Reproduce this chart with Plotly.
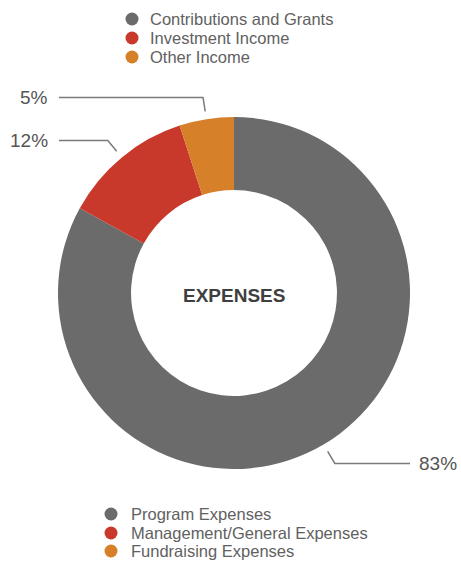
import math
import plotly.graph_objects as go

# ---- data ----
expense_labels = ["Program Expenses", "Management/General Expenses", "Fundraising Expenses"]
expense_values = [83, 12, 5]
income_labels = ["Contributions and Grants", "Investment Income", "Other Income"]
center_title = "EXPENSES"
colors = ["#6b6b6b", "#c8392b", "#d6802a"]

W, H = 461, 562
CX, CY, R = 234, 293, 176
HOLE = 0.585
FONT = "Liberation Sans, Arial, sans-serif"
TXT = "#616161"
LINE = "#7a7a7a"

fig = go.Figure()
fig.add_trace(go.Scatter(x=[], y=[], showlegend=False, hoverinfo="skip"))
fig.add_trace(go.Pie(
    labels=expense_labels, values=expense_values, hole=HOLE,
    sort=False, direction="clockwise", rotation=0,
    marker=dict(colors=colors, line=dict(width=0)),
    textinfo="none", showlegend=False,
    domain=dict(x=[(CX - R) / W, (CX + R) / W], y=[1 - (CY + R) / H, 1 - (CY - R) / H]),
))

shapes, annotations = [], []

# leader lines + percentage labels, computed from the values
total = sum(expense_values)
cum = 0
for v in expense_values:
    mid = (cum + v / 2) / total * 2 * math.pi
    cum += v
    s, c = math.sin(mid), math.cos(mid)
    x0, y0 = CX + (R + 8) * s, CY - (R + 8) * c
    x1, y1 = CX + (R + 22) * s, CY - (R + 22) * c
    if s > 0:
        x2, tx, anchor = 410, 417, "left"
    else:
        x2, tx, anchor = 59, 50, "right"
    shapes.append(dict(type="path", xref="x", yref="y",
                       path=f"M{x0},{y0} L{x1},{y1} L{x2},{y1}",
                       line=dict(color=LINE, width=1.5)))
    annotations.append(dict(x=tx, y=y1, xref="x", yref="y", text=f"{round(v / total * 100)}%",
                            showarrow=False, xanchor=anchor, yanchor="middle",
                            font=dict(family=FONT, size=19, color="#555555")))

# center text
annotations.append(dict(x=CX, y=CY + 2, xref="x", yref="y", text=f"<b>{center_title}</b>",
                        showarrow=False, font=dict(family=FONT, size=19, color="#3f3f3f")))

# manual legends with round markers
def legend(labels, cx, tx, ys):
    for lab, col, y in zip(labels, colors, ys):
        rr = 6.5
        shapes.append(dict(type="circle", xref="x", yref="y", x0=cx - rr, x1=cx + rr,
                           y0=y - rr, y1=y + rr, fillcolor=col, line=dict(width=0)))
        annotations.append(dict(x=tx, y=y, xref="x", yref="y", text=lab, showarrow=False,
                                xanchor="left", yanchor="middle",
                                font=dict(family=FONT, size=16.5, color=TXT)))

legend(income_labels, 132, 148, [19, 38, 57])
legend(expense_labels, 111, 129, [514, 533, 551])

fig.update_layout(
    width=W, height=H, margin=dict(l=0, r=0, t=0, b=0),
    paper_bgcolor="white", plot_bgcolor="white",
    xaxis=dict(range=[0, W], visible=False, fixedrange=True, domain=[0, 1]),
    yaxis=dict(range=[H, 0], visible=False, fixedrange=True, domain=[0, 1]),
    shapes=shapes, annotations=annotations, showlegend=False,
)
fig.write_html("out.html", config={"displayModeBar": False},
               post_script="document.body.style.margin='0';document.body.style.overflow='hidden';")
